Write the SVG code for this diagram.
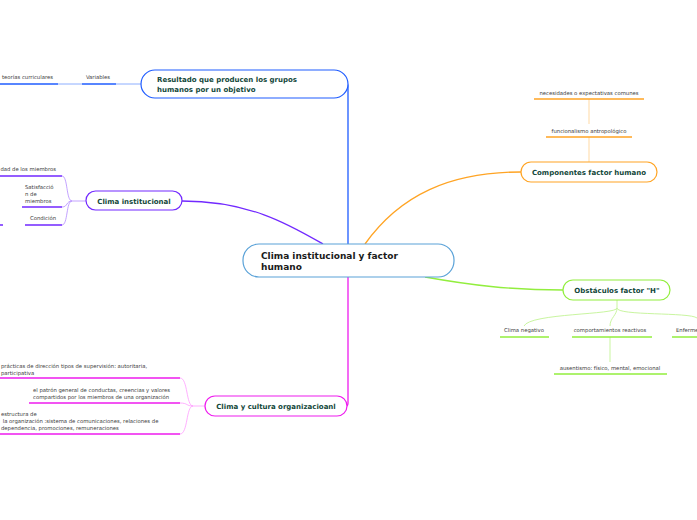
<svg xmlns="http://www.w3.org/2000/svg" width="697" height="520" viewBox="0 0 697 520">
<style>
.node{fill:#fff;stroke-width:1.2}
.lbl{font-family:"DejaVu Sans",Verdana,sans-serif;font-weight:bold;font-size:7px;fill:#12473a}
.main{font-family:"DejaVu Sans",Verdana,sans-serif;font-weight:bold;font-size:9px;fill:#1a1a1a}
.sm{font-family:"DejaVu Sans",Verdana,sans-serif;font-size:5.3px;fill:#3a3a3a}
.c{fill:none}
</style>
<rect width="697" height="520" fill="#fff"/>
<g id="connectors">
  <!-- blue -->
  <path class="c" d="M348,244 V86 Q348,84 346,84" stroke="#1f5cff" stroke-width="1.3"/>
  <path class="c" d="M116,84 H141" stroke="#6f9bff" stroke-width="0.8"/>
  <path class="c" d="M58,84 H82" stroke="#6f9bff" stroke-width="0.8"/>
  <path class="c" d="M82,84 H116" stroke="#1f5cff" stroke-width="1.5"/>
  <path class="c" d="M0,84 H58" stroke="#1f5cff" stroke-width="1.5"/>
  <!-- purple -->
  <path class="c" d="M182,201 C250,201 290,225 323,244" stroke="#7229ff" stroke-width="1.3"/>
  <path class="c" d="M86,201 H72 C66,201 68,176 62,176 M72,201 C66,201 68,207 62,207 M72,201 C66,201 68,225 62,225" stroke="#b48cff" stroke-width="0.8"/>
  <path class="c" d="M0,176 H62 M22,207 H62 M25,225 H62 M0,225 H3" stroke="#7229ff" stroke-width="1.5"/>
  <!-- orange -->
  <path class="c" d="M365,244 C400,195 450,172 521,172" stroke="#ffa424" stroke-width="1.3"/>
  <path class="c" d="M589,137 V162 M589,99 V124" stroke="#ffd9a3" stroke-width="1"/>
  <path class="c" d="M546,137 H632 M534,99 H644" stroke="#ffa424" stroke-width="1.5"/>
  <!-- green -->
  <path class="c" d="M425,277 C470,285 510,290 563,290" stroke="#92ee3e" stroke-width="1.3"/>
  <path class="c" d="M617,300 V308 C617,315 530,313 524,326 M617,308 C617,315 610,318 610,326 M617,308 C617,316 690,312 697,318 M610,337 V362" stroke="#c9f5a0" stroke-width="1"/>
  <path class="c" d="M500,337 H549 M572,337 H652 M672,337 H697 M554,374 H667" stroke="#92ee3e" stroke-width="1.5"/>
  <!-- magenta -->
  <path class="c" d="M348,277 V403 Q348,406 346,406" stroke="#ee1cee" stroke-width="1.3"/>
  <path class="c" d="M205,406 H193 C186,406 188,378 180,378 M193,406 C186,406 188,403 180,403 M193,406 C186,406 188,434 180,434" stroke="#ff9cff" stroke-width="0.8"/>
  <path class="c" d="M0,378 H180 M29,403 H180 M0,434 H180" stroke="#ee1cee" stroke-width="1.5"/>
</g>
<g id="n-center">
  <rect class="node" x="243" y="244" width="211" height="33" rx="16" stroke="#5aa2d8"/>
  <text class="main" x="261" y="259">Clima institucional y factor</text>
  <text class="main" x="261" y="270">humano</text>
</g>
<g id="n-resultado">
  <rect class="node" x="141" y="70" width="207" height="28" rx="14" stroke="#1f5cff"/>
  <text class="lbl" x="157" y="82">Resultado que producen los grupos</text>
  <text class="lbl" x="157" y="92">humanos por un objetivo</text>
</g>
<g id="n-variables"><text class="sm" x="98" y="79" text-anchor="middle">Variables</text></g>
<g id="n-teorias"><text class="sm" x="53" y="79" text-anchor="end">teorías curriculares</text></g>
<g id="n-clima-inst">
  <rect class="node" x="86" y="191" width="96" height="19" rx="9.5" stroke="#7229ff"/>
  <text class="lbl" x="134" y="204" text-anchor="middle">Clima institucional</text>
</g>
<g id="n-dad"><text class="sm" x="56" y="171" text-anchor="end">dad de los miembros</text></g>
<g id="n-satisf">
  <text class="sm" x="25" y="189">Satisfacció</text>
  <text class="sm" x="25" y="196">n de</text>
  <text class="sm" x="25" y="203">miembros</text>
</g>
<g id="n-condicion"><text class="sm" x="43" y="220" text-anchor="middle">Condición</text></g>
<g id="n-componentes">
  <rect class="node" x="521" y="162" width="136" height="20" rx="10" stroke="#ffa424"/>
  <text class="lbl" x="589" y="175" text-anchor="middle">Componentes factor humano</text>
</g>
<g id="n-funcionalismo"><text class="sm" x="589" y="133" text-anchor="middle">funcionalismo antropológico</text></g>
<g id="n-necesidades"><text class="sm" x="589" y="95" text-anchor="middle">necesidades o expectativas comunes</text></g>
<g id="n-obstaculos">
  <rect class="node" x="563" y="280" width="107" height="20" rx="10" stroke="#92ee3e"/>
  <text class="lbl" x="617" y="293" text-anchor="middle">Obstáculos factor "H"</text>
</g>
<g id="n-clima-neg"><text class="sm" x="524" y="332" text-anchor="middle">Clima negativo</text></g>
<g id="n-comport"><text class="sm" x="610" y="332" text-anchor="middle">comportamientos reactivos</text></g>
<g id="n-enferme"><text class="sm" x="676" y="332">Enfermedades</text></g>
<g id="n-ausentismo"><text class="sm" x="610" y="370" text-anchor="middle">ausentismo: físico, mental, emocional</text></g>
<g id="n-cultura">
  <rect class="node" x="205" y="396" width="142" height="20" rx="10" stroke="#ee1cee"/>
  <text class="lbl" x="276" y="409" text-anchor="middle">Clima y cultura organizacioanl</text>
</g>
<g id="n-practicas">
  <text class="sm" x="1" y="368">prácticas de dirección tipos de supervisión: autoritaria,</text>
  <text class="sm" x="1" y="375">participativa</text>
</g>
<g id="n-patron">
  <text class="sm" x="33" y="392">el patrón general de conductas, creencias y valores</text>
  <text class="sm" x="33" y="399">compartidos por los miembros de una organización</text>
</g>
<g id="n-estructura">
  <text class="sm" x="1" y="416">estructura de</text>
  <text class="sm" x="1" y="423" xml:space="preserve"> la organización :sistema de comunicaciones, relaciones de</text>
  <text class="sm" x="1" y="430">dependencia, promociones, remuneraciones</text>
</g>
</svg>
